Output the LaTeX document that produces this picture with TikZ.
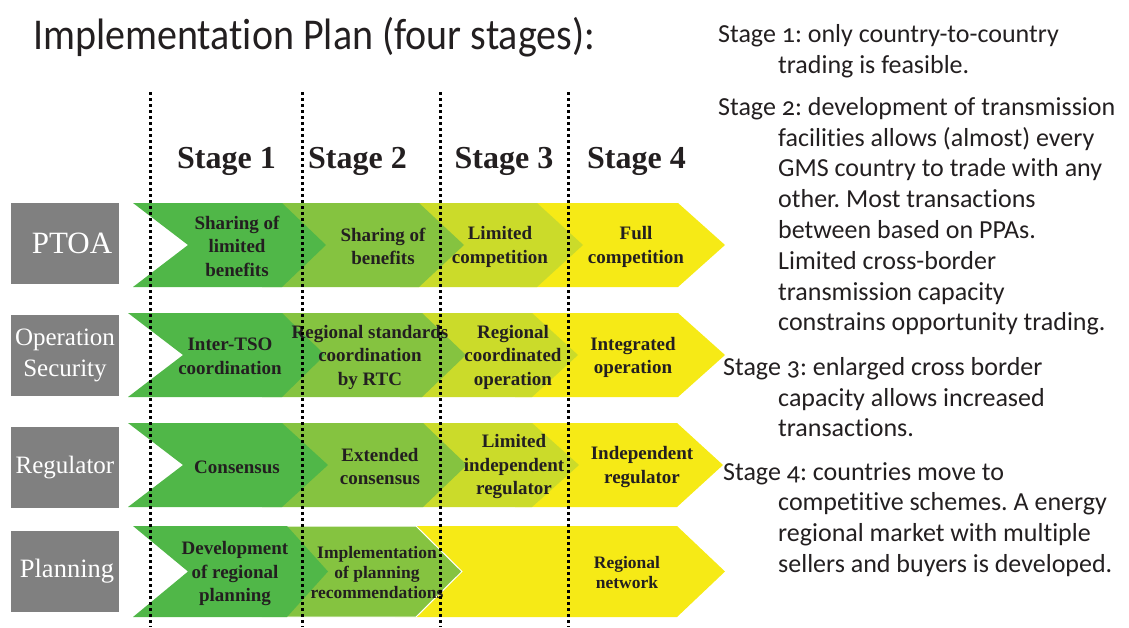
\documentclass[tikz,border=0pt]{standalone}
\usepackage{fontspec}
\usepackage{graphicx}
\setmainfont{Liberation Serif}
\newfontfamily\notefont[Numbers=OldStyle, Ligatures=CommonOff]{Carlito}
\frenchspacing

\definecolor{stageA}{RGB}{80,183,72}
\definecolor{stageB}{RGB}{133,195,64}
\definecolor{stageC}{RGB}{203,219,42}
\definecolor{stageD}{RGB}{246,234,22}
\definecolor{rowgray}{RGB}{128,128,128}
\definecolor{inktext}{RGB}{35,31,32}

% one chevron: colour, left, corner, tip, top, bottom
\newcommand{\chevron}[6]{%
  \fill[#1] (#2,#5) -- (#3,#5) -- (#4,{(#5+#6)/2}) -- (#3,#6) -- (#2,#6)
    -- ({#2+55},{(#5+#6)/2}) -- cycle;}
% indent of the wrapped note lines
\newcommand{\ind}[1]{\\\hspace*{#1pt}}

\begin{document}
\begin{tikzpicture}[x=1pt, y=-1pt,
    rowbox/.style={fill=rowgray, text=white, minimum width=108pt, minimum height=81pt,
      inner sep=0pt, align=center, font=\fontsize{25}{31}\selectfont},
    cell/.style={text=inktext, inner sep=0pt, align=center,
      font=\fontsize{19}{23.5}\selectfont\bfseries},
    smallcell/.style={cell, font=\fontsize{17.5}{20}\selectfont\bfseries},
    stagehead/.style={text=inktext, inner sep=0pt, anchor=base,
      font=\fontsize{32}{36}\selectfont\bfseries},
    note/.style={text=inktext, inner sep=0pt, anchor=north west,
      align=left, font=\notefont\fontsize{26}{30.8}\selectfont},
    dotline/.style={line width=3pt, dash pattern=on 3pt off 3pt}]
  \useasboundingbox (0,0) rectangle (1129,627);

  % title
  \node[text=inktext, inner sep=0pt, anchor=base west,
    font=\notefont\fontsize{40}{44}\selectfont] (title) at (33,49)
    {\scalebox{1}[1.1]{Implementation Plan (four stages):}};

  % stage headings
  \node[stagehead] (head1) at (226.5,168) {Stage 1};
  \node[stagehead] (head2) at (357.5,168) {Stage 2};
  \node[stagehead] (head3) at (504,168) {Stage 3};
  \node[stagehead] (head4) at (636.5,168) {Stage 4};

  % row labels
  \node[rowbox, font=\fontsize{31}{36}\selectfont] (ptoa) at (65,243.5) {\hspace*{14pt}PTOA};
  \node[rowbox] (opsec) at (65,355.5) {Operation\\Security};
  \node[rowbox] (regul) at (65,467.5) {Regulator};
  \node[rowbox, font=\fontsize{26.5}{31}\selectfont] (plann) at (65,571.5) {\hspace*{4pt}Planning};

  % row 1: PTOA
  \chevron{stageD}{520}{678}{725}{203}{287}
  \chevron{stageC}{400}{537}{583}{203}{287}
  \chevron{stageB}{262}{419}{464}{203}{287}
  \chevron{stageA}{133}{282}{326}{203}{287}
  \node[cell] (r1a) at (237,246) {Sharing of\\limited\\benefits};
  \node[cell] (r1b) at (383,246.5) {Sharing of\\benefits};
  \node[cell] (r1c) at (500,247) {Limited\\competition};
  \node[cell] (r1d) at (636,247) {Full\\competition};

  % row 2: operation security
  \chevron{stageD}{515}{678}{725}{313}{397}
  \chevron{stageC}{400}{532}{578}{313}{397}
  \chevron{stageB}{262}{422}{466}{313}{397}
  \chevron{stageA}{128}{282}{325}{313}{397}
  \node[cell] (r2a) at (230,356.5) {Inter-TSO\\coordination};
  \node[cell] (r2b) at (370,357) {Regional standards\\coordination\\by RTC};
  \node[cell] (r2c) at (513,357) {Regional\\coordinated\\operation};
  \node[cell] (r2d) at (633,357.5) {Integrated\\operation};

  % row 3: regulator
  \chevron{stageD}{515}{677}{723}{423}{507}
  \chevron{stageC}{400}{532}{579}{423}{507}
  \chevron{stageB}{262}{423}{467}{423}{507}
  \chevron{stageA}{128}{282}{328}{423}{507}
  \node[cell] (r3a) at (237,467) {Consensus};
  \node[cell] (r3b) at (380,466.5) {Extended\\consensus};
  \node[cell] (r3c) at (514,466.5) {Limited\\independent\\regulator};
  \node[cell] (r3d) at (642,467) {Independent\\regulator};

  % row 4: planning
  \chevron{stageD}{395}{677}{725}{526}{617}
  \chevron{stageB, draw=white, line width=1pt}{262}{416}{462}{526}{617}
  \chevron{stageA}{133}{287}{328}{526}{617}
  \node[cell] (r4a) at (235,573.5) {Development\\of regional\\planning};
  \node[smallcell] (r4b) at (377,573) {Implementation\\of planning\\recommendations};
  \node[smallcell] (r4d) at (627,573) {Regional\\network};

  % stage borders
  \foreach \x in {150,302,440,568}
    \draw[dotline] (\x,92) -- (\x,627);

  % notes on the right
  \node[note] (note1) at (718,24)
    {Stage 1: only country-to-country\ind{60}trading is feasible.};
  \node[note] (note2) at (718,97)
    {Stage 2: development of transmission\ind{60}facilities allows (almost) every%
     \ind{60}GMS country to trade with any\ind{60}other. Most transactions%
     \ind{60}between based on PPAs.\ind{60}Limited cross-border%
     \ind{60}transmission capacity\ind{60}constrains opportunity trading.};
  \node[note] (note3) at (723,357)
    {Stage 3: enlarged cross border\ind{55}capacity allows increased%
     \ind{55}transactions.};
  \node[note] (note4) at (723,462)
    {Stage 4: countries move to\ind{55}competitive schemes. A energy%
     \ind{55}regional market with multiple\ind{55}sellers and buyers is developed.};
\end{tikzpicture}
\end{document}
